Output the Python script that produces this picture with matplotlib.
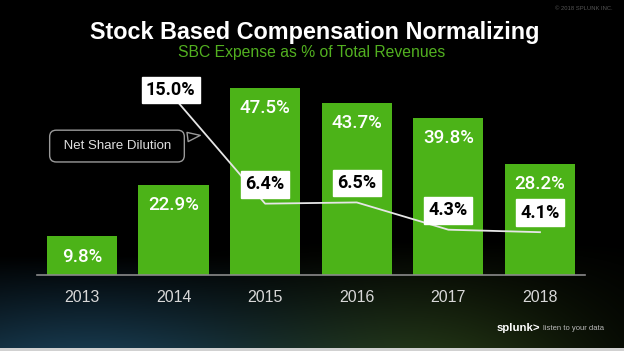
import matplotlib.pyplot as plt
import numpy as np

years = ["2013", "2014", "2015", "2016", "2017", "2018"]
sbc_pct = [9.8, 22.9, 47.5, 43.7, 39.8, 28.2]
dil_years = ["2014", "2015", "2016", "2017", "2018"]
dilution_pct = [15.0, 6.4, 6.5, 4.3, 4.1]

green = "#4cb318"
plt.rcParams["font.family"] = ["Liberation Sans", "DejaVu Sans"]

fig = plt.figure(figsize=(6.24, 3.51), dpi=100, facecolor="black")

# background glow (decoration only)
bg = fig.add_axes([0, 0, 1, 1], zorder=-10)
h, w = 351, 624
yy, xx = np.mgrid[0:h, 0:w]
teal = np.clip((yy - 255) / 95, 0, 1) * np.exp(-((xx - 80) / 230) ** 2)
grn = np.clip((yy - 240) / 110, 0, 1) * np.exp(-((xx - 430) / 170) ** 2)
img = np.zeros((h, w, 3))
img += teal[..., None] * np.array([0.09, 0.22, 0.30])
img += grn[..., None] * np.array([0.12, 0.18, 0.06])
img[h - 3:, :, :] = 0.82
bg.imshow(np.clip(img, 0, 1), aspect="auto", extent=(0, 1, 0, 1))
bg.set_axis_off()

ax = fig.add_axes([0.0593, 0.2165, 0.878, 0.584])
ax.set_facecolor("none")
x = np.arange(len(years))
ax.bar(x, sbc_pct, width=0.765, color=green, zorder=2)
for xi, v in zip(x, sbc_pct):
    ax.annotate(f"{v:.1f}%", (xi, v), xytext=(0, -14.5), textcoords="offset points",
                ha="center", va="center", color="white", fontsize=13.5,
                family=["Roboto", "DejaVu Sans"], fontweight="medium", zorder=5)
ax.set_xlim(-0.49, 5.49)
ax.set_ylim(0, 52.0)
ax.set_xticks(x, years)
ax.tick_params(axis="x", length=0, pad=11, labelsize=11.5, labelcolor="#d8d8d8")
ax.set_yticks([])
for s in ["top", "right", "left"]:
    ax.spines[s].set_visible(False)
ax.spines["bottom"].set_color("#8a8a8a")
ax.spines["bottom"].set_linewidth(1.2)

# net share dilution on its own scale
ax2 = ax.twinx()
ax2.set_ylim(0.645, 17.18)
ax2.set_axis_off()
dx = [years.index(y) for y in dil_years]
ax2.plot(dx, dilution_pct, color="#e6e6e6", lw=1.3, zorder=3)
offsets = [(-2, 5), (0, 14), (0, 14), (0, 14), (0, 14)]
for xi, v, off in zip(dx, dilution_pct, offsets):
    ax2.annotate(f"{v:.1f}%", (xi, v), xytext=off, textcoords="offset points",
                 ha="center", va="center", color="black", fontsize=13,
                 family=["Roboto", "DejaVu Sans"], fontweight="bold", zorder=6,
                 bbox=dict(boxstyle="square,pad=0.24", fc="white", ec="white"))

ax2.annotate(" Net Share Dilution ", xy=(0.303, 0.683), xytext=(0.146, 0.629),
             xycoords="axes fraction", textcoords="axes fraction",
             ha="center", va="center", color="#e0e0e0", fontsize=9.5,
             bbox=dict(boxstyle="round,pad=0.75,rounding_size=0.5", fc="black",
                       ec="#9a9a9a", lw=1),
             arrowprops=dict(arrowstyle="wedge,tail_width=0.7,shrink_factor=0.5",
                             fc="black", ec="#9a9a9a", lw=1))

fig.text(0.505, 1 - 33 / 351, "Stock Based Compensation Normalizing", ha="center",
         va="center", color="white", fontsize=16.8, fontweight="bold")
fig.text(0.5, 1 - 52 / 351, "SBC Expense as % of Total Revenues", ha="center",
         va="center", color="#52b020", fontsize=11.3)
fig.text(0.982, 1 - 8 / 351, "© 2018 SPLUNK INC.", ha="right", va="center",
         color="#555555", fontsize=4.2)
fig.text(497 / 624, 1 - 328 / 351, "splunk>", ha="left", va="center",
         color="white", fontsize=8.2, fontweight="bold")
fig.text(543 / 624, 1 - 328 / 351, "listen to your data", ha="left", va="center",
         color="#bbbbbb", fontsize=5.5)

fig.savefig("out.png", dpi=100, facecolor="black")
